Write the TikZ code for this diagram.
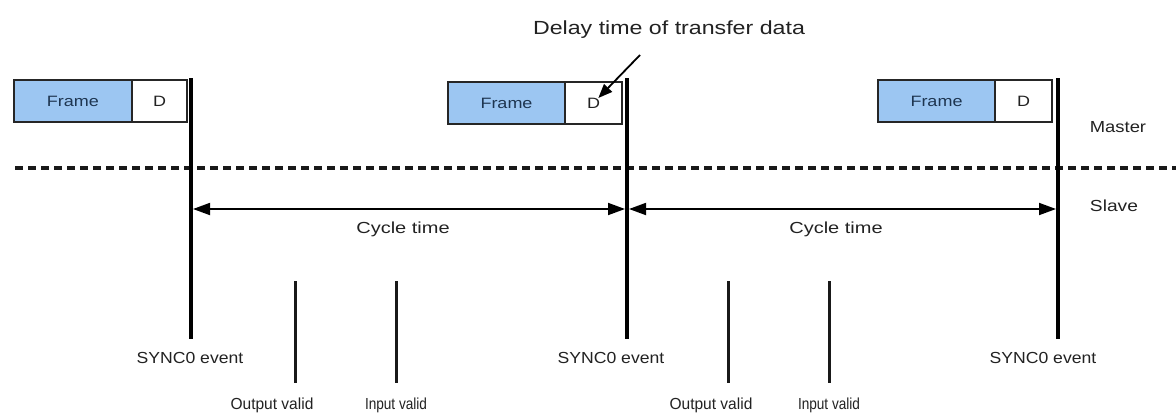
\documentclass[tikz,border=0pt]{standalone}
\usepackage{fontspec}
\setmainfont{Liberation Sans}
\usetikzlibrary{arrows.meta}
\definecolor{framefill}{HTML}{9CC6F2}
\definecolor{txt}{HTML}{222222}
\definecolor{frametxt}{HTML}{1E3550}
\newcommand\hs[2]{\scalebox{#1}[1]{#2}}
\tikzset{
  boxbase/.style={draw=black!85, line width=1.8pt, minimum height=42pt, inner sep=0pt, font=\fontsize{15}{18}\selectfont},
  framebox/.style={boxbase, fill=framefill, text=frametxt, minimum width=118pt},
  dbox/.style={boxbase, fill=white, text=txt, minimum width=55pt},
  syncline/.style={line width=4pt, black},
  validline/.style={line width=3pt, black!90},
  cyclearrow/.style={line width=1.8pt, shorten <=2pt, shorten >=2pt, {Triangle[length=17pt,width=12pt]}-{Triangle[length=17pt,width=12pt]}},
  lbl/.style={text=txt, inner sep=0pt, font=\fontsize{16}{19}\selectfont},
  sepline/.style={line width=3.5pt, dash pattern=on 8pt off 5pt, black!90},
}
\begin{document}
\begin{tikzpicture}[x=1pt,y=-1pt]
\useasboundingbox[fill=white] (0,0) rectangle (1176,418);

% separator
\coordinate (sepL) at (15,168);
\coordinate (sepR) at (1176,168);
\draw[sepline] (sepL) -- (sepR);

% frames
\node[framebox] (F1) at (73,101) {\hs{1.2}{Frame}};
\node[dbox] (D1) at (159.5,101) {\hs{1.2}{D}};
\node[framebox, minimum width=117pt] (F2) at (506.5,103) {\hs{1.2}{Frame}};
\node[dbox, minimum width=57pt] (D2) at (593.5,103) {\hs{1.2}{D}};
\node[framebox, minimum width=117pt] (F3) at (936.5,101) {\hs{1.2}{Frame}};
\node[dbox, minimum width=57pt] (D3) at (1023.5,101) {\hs{1.2}{D}};

% sync lines
\coordinate (s1t) at (191,78);  \coordinate (s1b) at (191,339);
\coordinate (s2t) at (627,78);  \coordinate (s2b) at (627,339);
\coordinate (s3t) at (1058,78); \coordinate (s3b) at (1058,339);
\draw[syncline] (s1t) -- (s1b);
\draw[syncline] (s2t) -- (s2b);
\draw[syncline] (s3t) -- (s3b);

% cycle arrows
\coordinate (a1) at (191,209);
\coordinate (a2) at (627,209);
\coordinate (a3) at (1058,209);
\draw[cyclearrow] (a1) -- (a2);
\draw[cyclearrow] (a2) -- (a3);
\node[lbl] (ct1) at (403,229) {\hs{1.25}{Cycle time}};
\node[lbl] (ct2) at (836,229) {\hs{1.25}{Cycle time}};

% valid lines
\coordinate (o1t) at (295,281); \coordinate (o1b) at (295,383);
\coordinate (i1t) at (396,281); \coordinate (i1b) at (396,383);
\coordinate (o2t) at (728,281); \coordinate (o2b) at (728,383);
\coordinate (i2t) at (829,281); \coordinate (i2b) at (829,383);
\draw[validline] (o1t) -- (o1b);
\draw[validline] (i1t) -- (i1b);
\draw[validline] (o2t) -- (o2b);
\draw[validline] (i2t) -- (i2b);

% labels
\node[lbl] (se1) at (190,358) {\hs{1.1}{SYNC0 event}};
\node[lbl] (se2) at (611,358) {\hs{1.1}{SYNC0 event}};
\node[lbl] (se3) at (1043,358) {\hs{1.1}{SYNC0 event}};
\node[lbl] (ov1) at (272,405) {\hs{0.97}{Output valid}};
\node[lbl] (iv1) at (396,405) {\hs{0.85}{Input valid}};
\node[lbl] (ov2) at (711,405) {\hs{0.97}{Output valid}};
\node[lbl] (iv2) at (829,405) {\hs{0.85}{Input valid}};
\node[lbl] (master) at (1118,127) {\hs{1.15}{Master}};
\node[lbl] (slave) at (1114,206) {\hs{1.2}{Slave}};

% delay annotation
\node[lbl, font=\fontsize{19}{22}\selectfont] (delay) at (669,30) {\hs{1.22}{Delay time of transfer data}};
\coordinate (dstart) at (640,55);
\draw[line width=1.8pt, shorten >=7pt, -{Triangle[length=14pt,width=11pt]}] (dstart) -- (D2.center);
\end{tikzpicture}
\end{document}
